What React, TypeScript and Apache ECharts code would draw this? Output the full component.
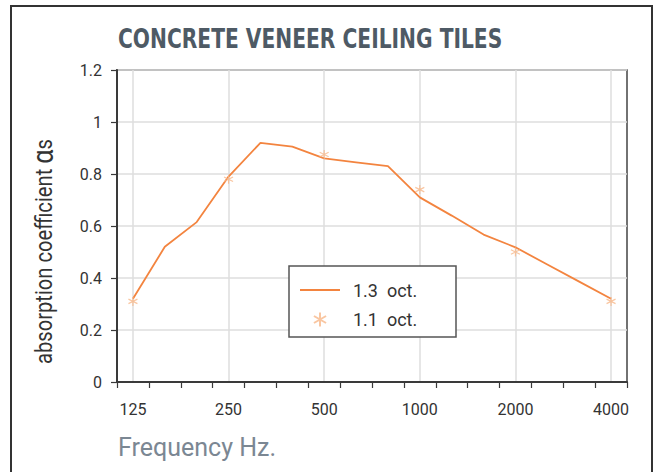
import React, { useEffect, useRef } from "react";
import * as echarts from "echarts";

const freqs = ["125", "160", "200", "250", "315", "400", "500", "630", "800", "1000", "1250", "1600", "2000", "2500", "3150", "4000"];
const thirdOct = [0.32, 0.52, 0.615, 0.79, 0.92, 0.905, 0.86, 0.845, 0.83, 0.71, 0.64, 0.567, 0.518, 0.452, 0.386, 0.32];
const octFreqs = ["125", "250", "500", "1000", "2000", "4000"];
const octVals = [0.31, 0.78, 0.875, 0.74, 0.50, 0.31];
const yTicks = [0, 0.2, 0.4, 0.6, 0.8, 1, 1.2];

const LINE = "#f3843f";
const STAR = "#f8b88a";
const AXIS = "#3a3a3a";
const GRIDC = "#dedede";
const FONT = "Roboto, 'Liberation Sans', sans-serif";

const starPath = "path://M5 0 L5 10 M0.67 2.5 L9.33 7.5 M0.67 7.5 L9.33 2.5";

export default function App() {
  const ref = useRef<HTMLDivElement>(null);
  useEffect(() => {
    if (!ref.current) return;
    const chart = echarts.init(ref.current, null, { renderer: "svg" });
    chart.setOption({
      animation: false,
      backgroundColor: "#ffffff",
      grid: { left: 117, right: 29, top: 70, bottom: 90, show: true, borderColor: "#444", borderWidth: 1.5, backgroundColor: "transparent", containLabel: false },
      xAxis: [
        {
          type: "category",
          data: freqs,
          boundaryGap: true,
          axisLine: { show: true, lineStyle: { color: AXIS, width: 2 } },
          axisTick: { show: true, interval: 0, length: 6, lineStyle: { color: AXIS, width: 1.2 } },
          axisLabel: { interval: 2, margin: 19, fontFamily: FONT, fontSize: 16, color: "#333" },
          splitLine: { show: true, interval: 2, alignWithLabel: true, lineStyle: { color: GRIDC, width: 1.5 } },
        },
      ],
      yAxis: {
        type: "value",
        min: 0,
        max: 1.2,
        interval: 0.2,
        axisLine: { show: true, lineStyle: { color: AXIS, width: 2 } },
        axisTick: { show: true, length: 6, lineStyle: { color: AXIS, width: 1.2 } },
        axisLabel: {
          margin: 15,
          fontFamily: FONT,
          fontSize: 16,
          color: "#333",
          formatter: (v: number) => {
            const t = yTicks.find((x) => Math.abs(x - v) < 1e-6);
            return t === undefined ? "" : String(t);
          },
        },
        splitLine: { show: true, lineStyle: { color: GRIDC, width: 1.5 } },
      },
      legend: {
        orient: "vertical",
        left: 299,
        top: 281,
        itemWidth: 40,
        itemHeight: 14,
        itemGap: 11,
        padding: 0,
        z: 20,
        data: [
          { name: "1.3  oct.", itemStyle: { color: "rgba(0,0,0,0)", borderWidth: 0 } },
          { name: "1.1  oct." },
        ],
        textStyle: { fontFamily: FONT, fontSize: 18, color: "#333", padding: [0, 0, 0, 8] },
      },
      graphic: [
        {
          type: "rect",
          z: 10,
          shape: { x: 289, y: 266, width: 167, height: 71 },
          style: { fill: "#fff", stroke: "#555", lineWidth: 1.5 },
        },
        {
          type: "rect",
          z: 0,
          silent: true,
          shape: { x: 11, y: 6, width: 641, height: 480 },
          style: { fill: "none", stroke: "#333", lineWidth: 2 },
        },
        {
          type: "text",
          x: 118,
          y: 39,
          scaleX: 0.865,
          style: {
            text: "CONCRETE VENEER CEILING TILES",
            fontFamily: "'Liberation Sans Narrow', 'DejaVu Sans Condensed', 'Roboto Condensed', sans-serif",
            fontWeight: "bold",
            fontSize: 26,
            fill: "#4e5a65",
            textAlign: "left",
            textVerticalAlign: "middle",
          },
        },
        {
          type: "text",
          x: 118,
          y: 447,
          style: {
            text: "Frequency Hz.",
            fontFamily: FONT,
            fontSize: 25,
            fill: "#7b8793",
            textAlign: "left",
            textVerticalAlign: "middle",
          },
        },
        {
          type: "text",
          x: 43,
          y: 364,
          rotation: Math.PI / 2,
          scaleX: 0.84,
          style: {
            text: "absorption coefficient {a|α}s",
            fontFamily: FONT,
            fontSize: 24,
            fill: "#333",
            textAlign: "left",
            textVerticalAlign: "middle",
            rich: { a: { fontFamily: FONT, fontSize: 30, fill: "#333" } },
          },
        },
      ],
      series: [
        {
          name: "1.3  oct.",
          type: "line",
          data: thirdOct,
          symbol: "none",
          lineStyle: { color: LINE, width: 1.8 },
          itemStyle: { color: LINE },
          z: 3,
        },
        {
          name: "1.1  oct.",
          type: "scatter",
          data: octFreqs.map((f, i) => [f, octVals[i]]),
          symbol: starPath,
          symbolSize: 9,
          itemStyle: { color: "none", borderColor: STAR, borderWidth: 1.2 },
          z: 4,
        },
      ],
    });
    return () => chart.dispose();
  }, []);
  return <div ref={ref} style={{ position: "absolute", left: 0, top: 0, width: 656, height: 472 }} />;
}
